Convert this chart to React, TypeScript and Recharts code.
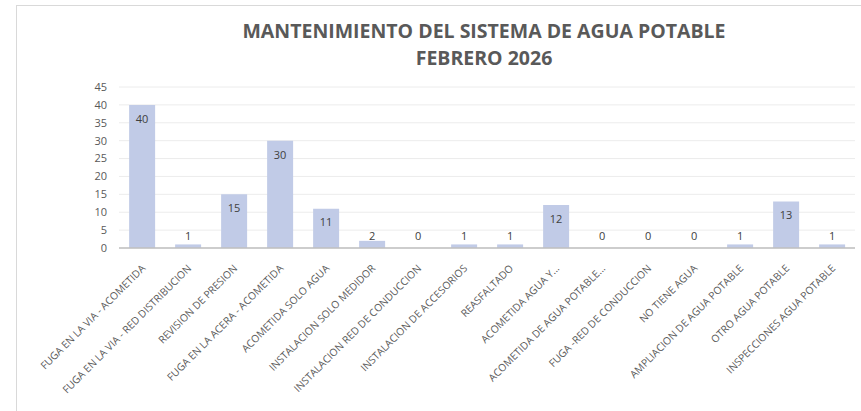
import { BarChart, Bar, XAxis, YAxis, CartesianGrid, LabelList } from "recharts";

const categories = [
  "FUGA EN LA VIA - ACOMETIDA",
  "FUGA EN LA VIA - RED DISTRIBUCION",
  "REVISION DE PRESION",
  "FUGA EN LA ACERA - ACOMETIDA",
  "ACOMETIDA SOLO AGUA",
  "INSTALACION SOLO MEDIDOR",
  "INSTALACION RED DE CONDUCCION",
  "INSTALACION DE ACCESORIOS",
  "REASFALTADO",
  "ACOMETIDA AGUA Y...",
  "ACOMETIDA DE AGUA POTABLE...",
  "FUGA -RED DE CONDUCCION",
  "NO TIENE AGUA",
  "AMPLIACION DE AGUA POTABLE",
  "OTRO AGUA POTABLE",
  "INSPECCIONES AGUA POTABLE",
];
const values = [40, 1, 15, 30, 11, 2, 0, 1, 1, 12, 0, 0, 0, 1, 13, 1];
const yTicks = [0, 5, 10, 15, 20, 25, 30, 35, 40, 45];

const data = categories.map((name, i) => ({ name, value: values[i], label: String(values[i]) }));

const textColor = "#595959";
const font = "'Open Sans', sans-serif";

function XTick(props: any) {
  const { x, y, payload } = props;
  return (
    <text
      transform={`translate(${x + 4},${y + 13}) rotate(-45)`}
      textAnchor="end"
      fontSize={10.3}
      fontFamily={font}
      fill={textColor}
    >
      {payload.value}
    </text>
  );
}

function ValueLabel(props: any) {
  const { x, y, width, height, value } = props;
  const base = y + height;
  const cy = Math.min(y + 14, base - 12);
  return (
    <text
      x={x + width / 2}
      y={cy}
      dy="0.35em"
      textAnchor="middle"
      fontSize={11}
      fontFamily={font}
      fill="#404040"
    >
      {value}
    </text>
  );
}

// zero-height bars are dropped, so give them a hairline to keep their labels
const minSize = (v: any) => (v === 0 ? 0.01 : 0);

export default function App() {
  return (
    <div style={{ position: "absolute", left: 0, top: 0, width: 861, height: 411, background: "#fff" }}>
      <div
        style={{
          position: "absolute",
          left: 16,
          top: 5,
          width: 900,
          height: 500,
          borderTop: "1px solid #d9d9d9",
          borderLeft: "1px solid #d9d9d9",
        }}
      />
      <div
        style={{
          position: "absolute",
          left: 0,
          top: 17,
          width: 968,
          textAlign: "center",
          fontFamily: font,
          fontWeight: 700,
          fontSize: 19.5,
          lineHeight: "27px",
          color: textColor,
        }}
      >
        MANTENIMIENTO DEL SISTEMA DE AGUA POTABLE
        <br />
        FEBRERO 2026
      </div>
      <div style={{ position: "absolute", left: 0, top: 0 }}>
        <BarChart
          width={861}
          height={411}
          data={data}
          margin={{ top: 87, right: 6, bottom: 0, left: 0 }}
          barCategoryGap="22%"
        >
          <CartesianGrid vertical={false} stroke="#ececec" />
          <XAxis
            dataKey="name"
            interval={0}
            height={163}
            tick={<XTick />}
            tickLine={false}
            axisLine={{ stroke: "#bfbfbf", strokeWidth: 1.5 }}
          />
          <YAxis
            width={119}
            domain={[0, 45]}
            ticks={yTicks}
            interval={0}
            tickLine={false}
            axisLine={false}
            tickMargin={6}
            tick={{ fill: textColor, fontSize: 11, fontFamily: font }}
          />
          <Bar
            dataKey="value"
            fill="#c1cbe7"
            minPointSize={minSize}
            isAnimationActive={false}
          >
            <LabelList dataKey="label" content={<ValueLabel />} />
          </Bar>
        </BarChart>
      </div>
    </div>
  );
}
